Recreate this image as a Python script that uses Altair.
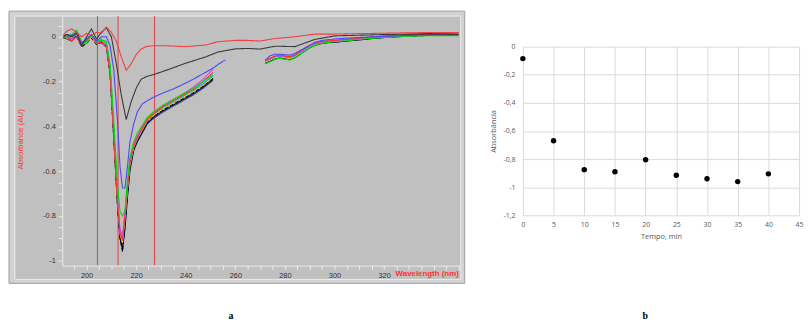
import altair as alt
import pandas as pd

# ---------------- panel a : UV spectra ----------------
WL_FULL = [190, 192, 194, 196, 198, 200, 202, 204, 206, 208,
           210, 212, 214, 216, 218, 220, 222, 224, 227,
           232, 240, 248, 253, 260, 265, 270, 276, 284, 292, 300,
           310, 320, 330, 340, 350]
A_RED0 = [0.0, 0.025, 0.035, 0.02, 0.0, 0.015, 0.005, 0.02, 0.015, 0.044,
          0.02, -0.02, -0.09, -0.15, -0.12, -0.08, -0.055, -0.044, -0.04,
          -0.04, -0.044, -0.037, -0.022, -0.016, -0.016, -0.019, -0.008, 0.0, 0.012, 0.012,
          0.014, 0.016, 0.018, 0.019, 0.019]
A_GRAY = [-0.005, 0.01, 0.0, 0.015, -0.04, 0.0, 0.035, -0.01, 0.02, 0.04,
          0.0, -0.12, -0.26, -0.37, -0.29, -0.23, -0.19, -0.178, -0.169,
          -0.15, -0.118, -0.09, -0.068, -0.054, -0.052, -0.055, -0.042, -0.044, -0.012, 0.004,
          0.007, 0.01, 0.012, 0.012, 0.01]

WL_1 = [190, 192, 194, 196, 198, 200, 202, 204, 206, 208,
        209.5, 211, 212.5, 213.5, 214.5, 215.5, 216.5, 217.5, 219, 220.5,
        222.5, 224.5, 227, 231, 235, 239, 243, 247, 251]
WL_1_BLUE = [190, 192, 194, 196, 198, 200, 202, 204, 206, 208,
             209.5, 211, 212.5, 213.5, 214.5, 215.5, 216.5, 217.5, 219, 220.5,
             222.5, 224.5, 227, 231, 235, 239, 243, 247, 251, 253.5, 256]
WL_2 = [272, 274, 276, 278, 280, 282, 284, 286, 288, 290,
        292, 295, 300, 305, 310, 316, 322, 330, 340, 350]

A_BLUE_1 = [0.0, 0.01, 0.005, 0.02, -0.03, -0.01, 0.01, -0.02, 0.0, 0.0,
            -0.04, -0.15, -0.38, -0.58, -0.675, -0.675, -0.58, -0.47, -0.39, -0.335,
            -0.30, -0.285, -0.27, -0.25, -0.233, -0.212, -0.19, -0.165, -0.14, -0.12, -0.103]
A_BLUE_2 = [-0.105, -0.085, -0.078, -0.078, -0.08, -0.082, -0.075, -0.062, -0.05, -0.038,
            -0.025, -0.016, -0.01, -0.006, -0.003, 0.0, 0.003, 0.006, 0.008, 0.008]

A_GREEN_1 = [-0.01, 0.0, 0.01, 0.03, -0.02, -0.03, 0.01, -0.02, -0.015, -0.02,
             -0.12, -0.38, -0.66, -0.78, -0.80, -0.78, -0.64, -0.54, -0.47, -0.43,
             -0.395, -0.36, -0.335, -0.305, -0.28, -0.255, -0.23, -0.2, -0.17]
A_GREEN_2 = [-0.12, -0.112, -0.1, -0.096, -0.1, -0.104, -0.095, -0.08, -0.064, -0.05,
             -0.038, -0.028, -0.022, -0.018, -0.012, -0.006, -0.002, 0.003, 0.005, 0.005]

A_MAGENTA_1 = [0.0, 0.01, -0.01, 0.02, -0.03, -0.01, 0.0, -0.02, -0.03, -0.04,
               -0.15, -0.42, -0.72, -0.86, -0.89, -0.78, -0.66, -0.55, -0.48, -0.44,
               -0.40, -0.365, -0.34, -0.305, -0.28, -0.255, -0.225, -0.19, -0.145]
A_MAGENTA_2 = [-0.108, -0.098, -0.088, -0.084, -0.088, -0.09, -0.082, -0.068, -0.054, -0.04,
               -0.03, -0.022, -0.018, -0.013, -0.008, -0.002, 0.002, 0.006, 0.01, 0.01]

A_CYAN_1 = [0.005, 0.0, -0.015, 0.015, -0.04, -0.02, 0.005, -0.025, -0.01, -0.03,
            -0.14, -0.41, -0.72, -0.87, -0.90, -0.79, -0.67, -0.56, -0.49, -0.45,
            -0.41, -0.37, -0.345, -0.315, -0.29, -0.265, -0.24, -0.21, -0.175]
A_CYAN_2 = [-0.11, -0.1, -0.09, -0.086, -0.09, -0.094, -0.086, -0.071, -0.057, -0.043,
            -0.033, -0.024, -0.019, -0.014, -0.009, -0.003, 0.001, 0.005, 0.008, 0.009]

A_YELLOW_1 = [0.0, 0.005, -0.005, 0.01, -0.03, -0.025, 0.0, -0.03, -0.02, -0.035,
              -0.15, -0.43, -0.73, -0.88, -0.92, -0.81, -0.68, -0.57, -0.495, -0.455,
              -0.415, -0.375, -0.35, -0.32, -0.295, -0.27, -0.245, -0.215, -0.18]
A_YELLOW_2 = [-0.114, -0.104, -0.094, -0.089, -0.094, -0.097, -0.089, -0.074, -0.059, -0.045,
              -0.035, -0.025, -0.02, -0.015, -0.01, -0.004, 0.0, 0.005, 0.008, 0.008]

A_RED2_1 = [0.01, 0.0, -0.02, 0.0, -0.04, -0.01, 0.01, -0.03, -0.02, -0.04,
            -0.16, -0.44, -0.74, -0.88, -0.91, -0.80, -0.67, -0.56, -0.49, -0.45,
            -0.41, -0.37, -0.345, -0.31, -0.285, -0.26, -0.235, -0.2, -0.16]
A_RED2_2 = [-0.106, -0.096, -0.086, -0.082, -0.086, -0.089, -0.081, -0.067, -0.052, -0.038,
            -0.028, -0.02, -0.016, -0.011, -0.006, 0.0, 0.004, 0.008, 0.012, 0.013]

A_BLACK_1 = [-0.01, 0.0, -0.01, 0.005, -0.045, -0.03, -0.005, -0.035, -0.02, -0.04,
             -0.17, -0.46, -0.76, -0.90, -0.96, -0.84, -0.70, -0.58, -0.50, -0.46,
             -0.42, -0.38, -0.355, -0.325, -0.3, -0.275, -0.25, -0.22, -0.185]
A_BLACK_2 = [-0.118, -0.108, -0.098, -0.093, -0.098, -0.101, -0.093, -0.078, -0.063, -0.048,
             -0.038, -0.028, -0.023, -0.018, -0.013, -0.006, -0.001, 0.004, 0.008, 0.01]

A_NAVY_1 = [-0.005, 0.01, 0.0, 0.0, -0.04, -0.02, 0.0, -0.03, -0.025, -0.045,
            -0.16, -0.45, -0.75, -0.90, -0.95, -0.85, -0.71, -0.59, -0.505, -0.465,
            -0.425, -0.385, -0.36, -0.33, -0.305, -0.28, -0.255, -0.225, -0.19]
A_NAVY_2 = [-0.117, -0.107, -0.097, -0.092, -0.097, -0.1, -0.092, -0.077, -0.062, -0.047,
            -0.037, -0.027, -0.024, -0.019, -0.014, -0.007, -0.002, 0.003, 0.007, 0.008]

A_GRAY2_1 = [0.0, -0.01, -0.02, 0.01, -0.035, -0.015, 0.005, -0.025, -0.03, -0.04,
             -0.15, -0.44, -0.74, -0.89, -0.94, -0.86, -0.72, -0.60, -0.51, -0.47,
             -0.43, -0.39, -0.365, -0.335, -0.31, -0.285, -0.26, -0.23, -0.195]
A_GRAY2_2 = [-0.12, -0.11, -0.1, -0.095, -0.1, -0.102, -0.094, -0.079, -0.064, -0.049,
             -0.039, -0.029, -0.024, -0.018, -0.012, -0.005, 0.0, 0.005, 0.009, 0.01]

A_MAROON_1 = [0.0, 0.005, 0.0, 0.01, -0.03, -0.02, 0.0, -0.02, -0.02, -0.035,
              -0.15, -0.43, -0.73, -0.88, -0.93, -0.82, -0.69, -0.575, -0.50, -0.455,
              -0.415, -0.375, -0.35, -0.32, -0.295, -0.27, -0.245, -0.215, -0.18]
A_MAROON_2 = [-0.113, -0.103, -0.093, -0.088, -0.092, -0.095, -0.087, -0.072, -0.057, -0.043,
              -0.033, -0.024, -0.019, -0.013, -0.007, -0.001, 0.004, 0.01, 0.016, 0.017]

CURVE_NAMES = ["maroon", "gray2", "navy", "black", "yellow", "cyan", "magenta", "red2",
               "green", "blue", "gray", "red0"]
CURVE_COLORS = ["#7a0000", "#555555", "#000088", "#000000", "#f0f000", "#00b4ff", "#ff30ff",
                "#ff3030", "#00dd00", "#4848ff", "#3a3a3a", "#f04040"]
CURVE_DASH = ["solid", "solid", "solid", "dash", "solid", "solid", "solid", "solid",
              "solid", "solid", "solid", "solid"]

MARKERS_NM = [204.2, 212.5, 227.2]

A_XTICKS = list(range(190, 351, 5))
A_XLABELS = [200, 220, 240, 260, 280, 300, 320]
A_YTICKS = [-1.0, -0.95, -0.9, -0.85, -0.8, -0.75, -0.7, -0.65, -0.6, -0.55, -0.5,
            -0.45, -0.4, -0.35, -0.3, -0.25, -0.2, -0.15, -0.1, -0.05, 0.0, 0.05]

# ---------------- panel b : absorbance vs time ----------------
T_MIN = [0, 5, 10, 15, 20, 25, 30, 35, 40]
ABS_214 = [-0.085, -0.67, -0.875, -0.89, -0.805, -0.915, -0.94, -0.96, -0.905]
B_XTICKS = [0, 5, 10, 15, 20, 25, 30, 35, 40, 45]
B_YTICKS = [-1.2, -1.0, -0.8, -0.6, -0.4, -0.2, 0.0]

# ---------------- build tables ----------------
rows = []


def add(name, seg, wls, vals):
    assert len(wls) == len(vals), (name, seg, len(wls), len(vals))
    dash = CURVE_DASH[CURVE_NAMES.index(name)]
    for w, v in zip(wls, vals):
        rows.append({"curve": name, "seg": f"{name}-{seg}", "dash": dash, "wl": w, "absv": v})


add("maroon", 1, WL_1, A_MAROON_1); add("maroon", 2, WL_2, A_MAROON_2)
add("gray2", 1, WL_1, A_GRAY2_1); add("gray2", 2, WL_2, A_GRAY2_2)
add("navy", 1, WL_1, A_NAVY_1); add("navy", 2, WL_2, A_NAVY_2)
add("black", 1, WL_1, A_BLACK_1); add("black", 2, WL_2, A_BLACK_2)
add("yellow", 1, WL_1, A_YELLOW_1); add("yellow", 2, WL_2, A_YELLOW_2)
add("cyan", 1, WL_1, A_CYAN_1); add("cyan", 2, WL_2, A_CYAN_2)
add("magenta", 1, WL_1, A_MAGENTA_1); add("magenta", 2, WL_2, A_MAGENTA_2)
add("red2", 1, WL_1, A_RED2_1); add("red2", 2, WL_2, A_RED2_2)
add("green", 1, WL_1, A_GREEN_1); add("green", 2, WL_2, A_GREEN_2)
add("blue", 1, WL_1_BLUE, A_BLUE_1); add("blue", 2, WL_2, A_BLUE_2)
add("gray", 1, WL_FULL, A_GRAY)
add("red0", 1, WL_FULL, A_RED0)
spectra = pd.DataFrame(rows)

one = pd.DataFrame({"k": [0]})

W_A, H_A = 403, 253
xs_a = alt.Scale(domain=[190.2, 350.5], nice=False, zero=False)
ys_a = alt.Scale(domain=[-1.022, 0.0925], nice=False, zero=False)

frame_outer = alt.Chart(one).mark_rect(fill="#d2d2d2", stroke="#9c9c9c", strokeWidth=1).encode(
    x=alt.value(-54), x2=alt.value(408), y=alt.value(-5), y2=alt.value(271))
frame_inner = alt.Chart(one).mark_rect(fill="#c0c0c0", stroke="#ececec", strokeWidth=1).encode(
    x=alt.value(-48), x2=alt.value(404), y=alt.value(0), y2=alt.value(267))

y_label_expr = ("abs(datum.value*5 - round(datum.value*5)) < 0.01 ? "
                "(datum.value < -0.001 ? '-' : '') + format(abs(datum.value), '~g') : ''")
x_label_expr = "indexof(" + str(A_XLABELS) + ", datum.value) >= 0 ? format(datum.value, 'd') : ''"

x_axis_a = alt.Axis(
    values=A_XTICKS, labelExpr=x_label_expr, title=None, grid=False, zindex=2,
    domainColor="#ececec", tickColor="#ececec", tickSize=4,
    labelColor="#333333", labelFont="Liberation Sans", labelFontSize=7.5,
    labelPadding=2, labelFlush=False, labelOverlap=False)
y_axis_a = alt.Axis(
    values=A_YTICKS, labelExpr=y_label_expr, title=None, grid=False, zindex=2,
    domainColor="#ececec", tickColor="#ececec", tickSize=4,
    labelColor="#333333", labelFont="Liberation Sans", labelFontSize=7.5,
    labelPadding=3, labelFlush=False, labelOverlap=False)


# one separate thin red rectangle layer per vertical marker, through the x scale
def marker_layer(nm):
    return alt.Chart(pd.DataFrame({"nm": [nm]})).transform_calculate(
        nm2="datum.nm + 0.42"
    ).mark_rect(fill="#e04848", opacity=1).encode(
        x=alt.X("nm:Q", scale=xs_a, axis=x_axis_a),
        x2="nm2:Q",
        y=alt.value(0), y2=alt.value(H_A))


markers = [marker_layer(v) for v in MARKERS_NM]

lines = alt.Chart(spectra).mark_line(strokeWidth=1.1, clip=True).encode(
    x=alt.X("wl:Q", scale=xs_a, axis=x_axis_a),
    y=alt.Y("absv:Q", scale=ys_a, axis=y_axis_a),
    detail="seg:N",
    color=alt.Color("curve:N", scale=alt.Scale(domain=CURVE_NAMES, range=CURVE_COLORS), legend=None),
    strokeDash=alt.StrokeDash("dash:N", scale=alt.Scale(domain=["solid", "dash"], range=[[1, 0], [4, 2]]),
                              legend=None),
)

x_title_a = alt.Chart(one).mark_text(
    text="Wavelength (nm)", color="#ff3030", font="Liberation Sans", fontSize=8,
    fontWeight="bold", align="right", baseline="middle").encode(
    x=alt.value(402), y=alt.value(262))
y_title_a = alt.Chart(one).mark_text(
    text="Absorbance (AU)", color="#ff3030", font="Liberation Sans", fontSize=8,
    angle=270, align="center", baseline="middle").encode(
    x=alt.value(-42), y=alt.value(125))
cap_a = alt.Chart(one).mark_text(
    text="a", font="Liberation Serif", fontSize=10, fontWeight="bold", color="#000000",
    align="center", baseline="middle").encode(x=alt.value(171), y=alt.value(304))

panel_a = alt.layer(frame_outer, frame_inner, *markers, lines, x_title_a, y_title_a, cap_a).properties(
    width=W_A, height=H_A)

# ---------------- panel b ----------------
pts = pd.DataFrame({"t": T_MIN, "a": ABS_214})
b_y_expr = "(datum.value < -0.001 ? '-' : '') + replace(format(abs(datum.value), '~g'), '.', ',')"

scatter = alt.Chart(pts).mark_circle(size=30, color="#000000", opacity=1).encode(
    x=alt.X("t:Q", scale=alt.Scale(domain=[0, 45], nice=False), axis=alt.Axis(
        values=B_XTICKS, grid=True, gridColor="#d9d9d9", domain=False, ticks=False,
        labelColor="#595959", labelFont="Open Sans", labelFontSize=7, labelPadding=5,
        labelFlush=False, title="Tempo, min", titleColor="#595959", titleFont="Open Sans",
        titleFontSize=7.5, titleFontWeight="normal", titlePadding=6)),
    y=alt.Y("a:Q", scale=alt.Scale(domain=[-1.2, 0], nice=False), axis=alt.Axis(
        values=B_YTICKS, labelExpr=b_y_expr, grid=True, gridColor="#d9d9d9", domain=False,
        ticks=False, labelColor="#595959", labelFont="Open Sans", labelFontSize=7,
        labelPadding=8, labelFlush=False, title="Absorbância", titleColor="#595959",
        titleFont="Open Sans", titleFontSize=7.5, titleFontWeight="normal", titlePadding=6)),
)
cap_b = alt.Chart(one).mark_text(
    text="b", font="Liberation Serif", fontSize=10, fontWeight="bold", color="#000000",
    align="center", baseline="middle").encode(x=alt.value(124), y=alt.value(273))

panel_b_plot = alt.layer(scatter, cap_b).properties(width=280, height=171)
spacer = alt.Chart(one).mark_text(text="").encode(x=alt.value(0), y=alt.value(0)).properties(
    width=280, height=1)
panel_b = alt.vconcat(spacer, panel_b_plot, spacing=30, bounds="flush")

chart = alt.hconcat(panel_a, panel_b, spacing=64, bounds="flush").properties(
    padding=0, background="#ffffff"
).configure_view(stroke=None)

chart.save("out.html", embed_options={"renderer": "svg", "actions": False})
